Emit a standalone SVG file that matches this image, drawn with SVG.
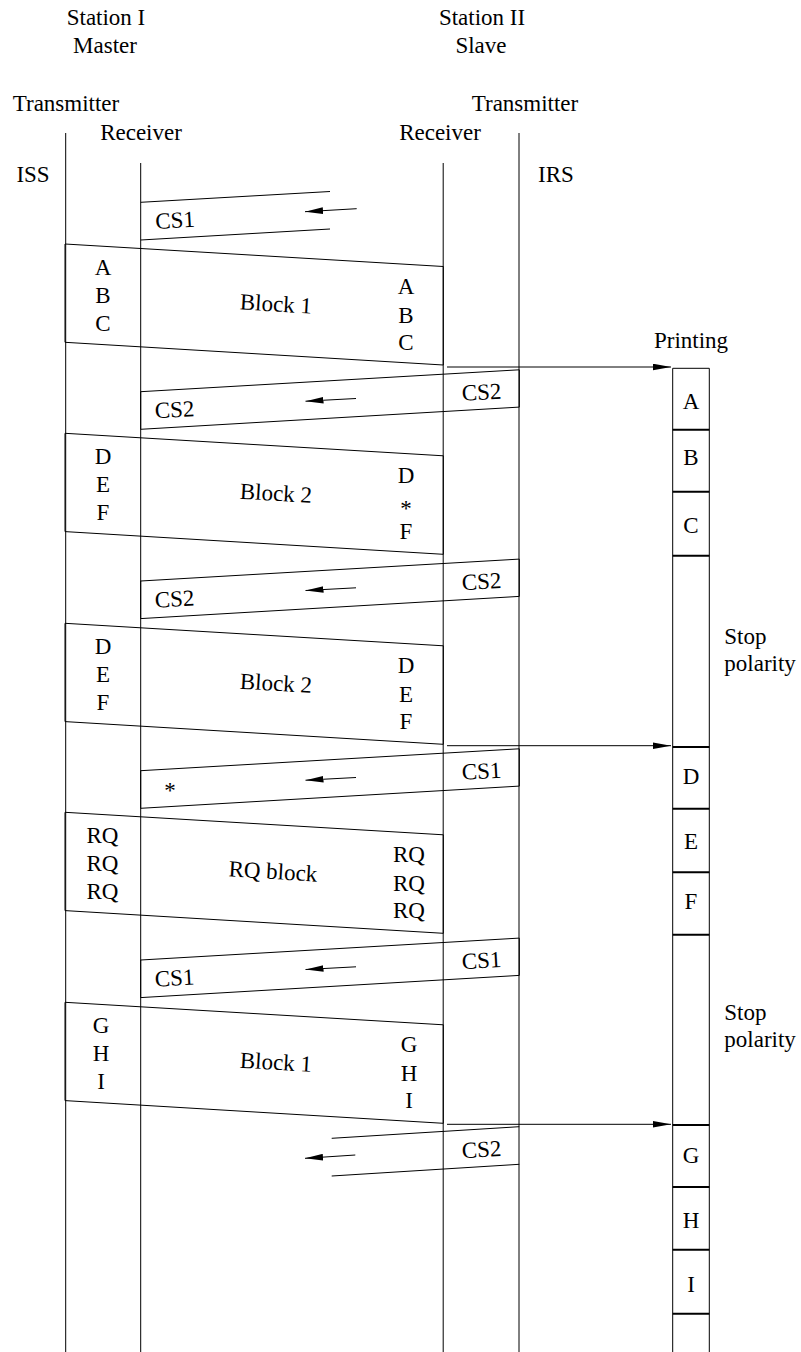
<svg xmlns="http://www.w3.org/2000/svg" width="801" height="1352" viewBox="0 0 801 1352">
<defs>
<marker id="ah" markerUnits="userSpaceOnUse" markerWidth="18" markerHeight="7" viewBox="0 -3.5 18 7" refX="18" refY="0" orient="auto"><path d="M0,-3.3 L18,0 L0,3.3 Z" fill="#000"/></marker>
</defs>
<rect width="801" height="1352" fill="#fff"/>

<g id="header" font-family="Liberation Serif" font-size="23" text-anchor="middle" fill="#000">
<text x="106" y="25">Station I</text>
<text x="105" y="53">Master</text>
<text x="482" y="25">Station II</text>
<text x="481" y="53">Slave</text>
<text x="66" y="111">Transmitter</text>
<text x="141" y="140">Receiver</text>
<text x="525" y="111">Transmitter</text>
<text x="440" y="140">Receiver</text>
<text x="33" y="182">ISS</text>
<text x="556" y="182">IRS</text>
</g>

<g id="lifelines" stroke="#000" stroke-width="1" fill="none">
<line x1="65.7" y1="133" x2="65.7" y2="1352"/>
<line x1="140.7" y1="163" x2="140.7" y2="1352"/>
<line x1="443.2" y1="163" x2="443.2" y2="1352"/>
<line x1="519" y1="133" x2="519" y2="1352"/>
</g>

<g id="cs1-start">
<g stroke="#000" stroke-width="1" fill="none">
<line x1="140.7" y1="202.3" x2="330" y2="191.5"/>
<line x1="140.7" y1="240" x2="330" y2="229"/>
</g>
<text font-family="Liberation Serif" font-size="23" text-anchor="middle" x="175" y="227.8" transform="rotate(-3.3 175 220)">CS1</text>
</g>

<g id="block1">
<polygon stroke="#000" stroke-width="1" fill="none" points="65,244 443.3,266.5 443.3,365 65,342.3"/>
<g font-family="Liberation Serif" font-size="23" text-anchor="middle" fill="#000">
<text x="103" y="274.5">A</text><text x="103" y="303">B</text><text x="103" y="331">C</text>
<text x="406" y="294">A</text><text x="406" y="322.5">B</text><text x="406" y="350">C</text>
<text x="276" y="311.5" transform="rotate(3.4 276 304)">Block 1</text>
</g>
</g>

<g id="cs2a">
<polygon stroke="#000" stroke-width="1" fill="none" points="140.7,391.7 519.3,369.8 519.3,407.1 140.7,429.3"/>
<g font-family="Liberation Serif" font-size="23" text-anchor="middle" fill="#000">
<text x="481.5" y="399.7" transform="rotate(-3.3 481.5 392)">CS2</text>
<text x="174.5" y="417.2" transform="rotate(-3.3 174.5 409)">CS2</text>
</g>
</g>

<g id="block2">
<polygon stroke="#000" stroke-width="1" fill="none" points="65,433.3 443.3,455.8 443.3,554.3 65,531.6"/>
<g font-family="Liberation Serif" font-size="23" text-anchor="middle" fill="#000">
<text x="103" y="463.8">D</text><text x="103" y="492.3">E</text><text x="103" y="520.3">F</text>
<text x="406" y="483.3">D</text><text x="406" y="516">*</text><text x="406" y="539.3">F</text>
<text x="276" y="500.8" transform="rotate(3.4 276 493)">Block 2</text>
</g>
</g>

<g id="cs2b">
<polygon stroke="#000" stroke-width="1" fill="none" points="140.7,581 519.3,559.1 519.3,596.4 140.7,618.6"/>
<g font-family="Liberation Serif" font-size="23" text-anchor="middle" fill="#000">
<text x="481.5" y="589" transform="rotate(-3.3 481.5 581)">CS2</text>
<text x="174.5" y="606.5" transform="rotate(-3.3 174.5 599)">CS2</text>
</g>
</g>

<g id="block2-repeat">
<polygon stroke="#000" stroke-width="1" fill="none" points="65,623.3 443.3,645.8 443.3,744.3 65,721.6"/>
<g font-family="Liberation Serif" font-size="23" text-anchor="middle" fill="#000">
<text x="103" y="653.8">D</text><text x="103" y="682.3">E</text><text x="103" y="710.3">F</text>
<text x="406" y="673.3">D</text><text x="406" y="701.8">E</text><text x="406" y="729.3">F</text>
<text x="276" y="690.8" transform="rotate(3.4 276 683)">Block 2</text>
</g>
</g>

<g id="cs1-star">
<polygon stroke="#000" stroke-width="1" fill="none" points="140.7,770.7 519.3,748.8 519.3,786.1 140.7,808.3"/>
<g font-family="Liberation Serif" font-size="23" text-anchor="middle" fill="#000">
<text x="481.5" y="778.7" transform="rotate(-3.3 481.5 771)">CS1</text>
<text x="170" y="798">*</text>
</g>
</g>

<g id="rq-block">
<polygon stroke="#000" stroke-width="1" fill="none" points="65,812.3 443.3,834.8 443.3,933.3 65,910.6"/>
<g font-family="Liberation Serif" font-size="23" text-anchor="middle" fill="#000">
<text x="102.5" y="842.8">RQ</text><text x="102.5" y="871.3">RQ</text><text x="102.5" y="899.3">RQ</text>
<text x="409" y="862.3">RQ</text><text x="409" y="890.8">RQ</text><text x="409" y="918.3">RQ</text>
<text x="273" y="879" transform="rotate(3.4 273 871)">RQ block</text>
</g>
</g>

<g id="cs1c">
<polygon stroke="#000" stroke-width="1" fill="none" points="140.7,960 519.3,938.1 519.3,975.4 140.7,997.6"/>
<g font-family="Liberation Serif" font-size="23" text-anchor="middle" fill="#000">
<text x="481.5" y="968" transform="rotate(-3.3 481.5 960)">CS1</text>
<text x="174.5" y="985.5" transform="rotate(-3.3 174.5 978)">CS1</text>
</g>
</g>

<g id="block1-repeat">
<polygon stroke="#000" stroke-width="1" fill="none" points="65,1002.3 443.3,1024.8 443.3,1123.3 65,1100.6"/>
<g font-family="Liberation Serif" font-size="23" text-anchor="middle" fill="#000">
<text x="101" y="1032.8">G</text><text x="101" y="1061.3">H</text><text x="101" y="1089.3">I</text>
<text x="409" y="1052.3">G</text><text x="409" y="1080.8">H</text><text x="409" y="1108.3">I</text>
<text x="276" y="1069.8" transform="rotate(3.4 276 1062)">Block 1</text>
</g>
</g>

<g id="cs2-end">
<g stroke="#000" stroke-width="1" fill="none">
<line x1="331.7" y1="1138.3" x2="519.3" y2="1126.7"/>
<line x1="331.7" y1="1176" x2="519.3" y2="1164.3"/>
</g>
<text font-family="Liberation Serif" font-size="23" text-anchor="middle" x="481.5" y="1157" transform="rotate(-3.3 481.5 1149)">CS2</text>
</g>

<g id="printing">
<g stroke="#000" stroke-width="1" fill="none">
<line x1="672.7" y1="368.3" x2="672.7" y2="1352"/>
<line x1="709.3" y1="368.3" x2="709.3" y2="1352"/>
<line x1="672.7" y1="368.3" x2="709.3" y2="368.3"/>
</g>
<g stroke="#000" stroke-width="2">
<line x1="672.7" y1="429.7" x2="709.3" y2="429.7"/>
<line x1="672.7" y1="491.7" x2="709.3" y2="491.7"/>
<line x1="672.7" y1="555.7" x2="709.3" y2="555.7"/>
<line x1="672.7" y1="747" x2="709.3" y2="747"/>
<line x1="672.7" y1="808.7" x2="709.3" y2="808.7"/>
<line x1="672.7" y1="872.3" x2="709.3" y2="872.3"/>
<line x1="672.7" y1="934.7" x2="709.3" y2="934.7"/>
<line x1="672.7" y1="1125" x2="709.3" y2="1125"/>
<line x1="672.7" y1="1187" x2="709.3" y2="1187"/>
<line x1="672.7" y1="1249.7" x2="709.3" y2="1249.7"/>
<line x1="672.7" y1="1313.7" x2="709.3" y2="1313.7"/>
</g>
<g font-family="Liberation Serif" font-size="23" text-anchor="middle" fill="#000">
<text x="691" y="348.3">Printing</text>
<text x="691" y="409.3">A</text>
<text x="691" y="465">B</text>
<text x="691" y="532.7">C</text>
<text x="691" y="784">D</text>
<text x="691" y="849">E</text>
<text x="691" y="909">F</text>
<text x="691" y="1162.7">G</text>
<text x="691" y="1227.7">H</text>
<text x="691" y="1292.3">I</text>
<text text-anchor="start" x="724.3" y="644">Stop</text>
<text text-anchor="start" x="724.3" y="671">polarity</text>
<text text-anchor="start" x="724.3" y="1020">Stop</text>
<text text-anchor="start" x="724.3" y="1047.3">polarity</text>
</g>
</g>

<g id="connectors" stroke="#000" stroke-width="1" fill="none" marker-end="url(#ah)">
<line x1="356.7" y1="208.7" x2="305" y2="211.7"/>
<line x1="356" y1="398.5" x2="305.5" y2="401.2"/>
<line x1="356" y1="587.8" x2="305.5" y2="590.5"/>
<line x1="356" y1="777.5" x2="305.5" y2="780.2"/>
<line x1="356" y1="966.8" x2="305.5" y2="969.5"/>
<line x1="355.3" y1="1155" x2="305" y2="1158.3"/>
<line x1="447" y1="367" x2="671" y2="367"/>
<line x1="447" y1="745.7" x2="671" y2="745.7"/>
<line x1="447" y1="1124.3" x2="671" y2="1124.3"/>
</g>
</svg>
